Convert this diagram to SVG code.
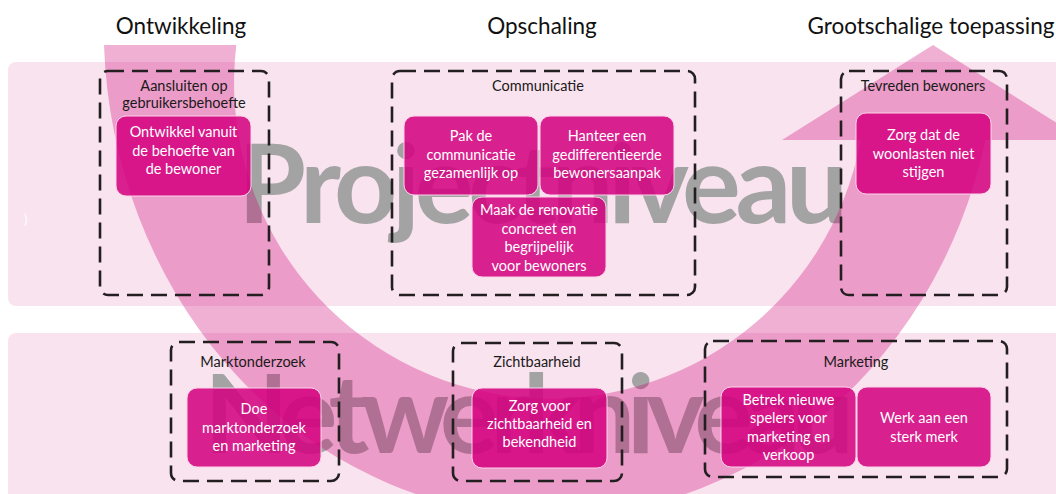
<svg xmlns="http://www.w3.org/2000/svg" width="1056" height="494" viewBox="0 0 1056 494">
<style>
.panel{fill:#f9e3ef}
.big{font-family:Lato,"Open Sans",sans-serif;font-size:110px;font-weight:bold;fill:#a3a3a3}
.head{font-family:Lato,"Open Sans",sans-serif;font-size:22.5px;fill:#111;text-anchor:middle}
.frame{fill:none;stroke:#231f20;stroke-width:2.6;stroke-dasharray:16 8}
.lbl{font-family:Lato,"Open Sans",sans-serif;font-size:14.5px;fill:#1a1a1a;text-anchor:middle}
.box{fill:rgb(212,0,127);fill-opacity:0.86;stroke:#fbd3e8;stroke-width:1}
.bt{font-family:Lato,"Open Sans",sans-serif;font-size:14.5px;fill:#fff;text-anchor:middle}
</style>
<rect width="1056" height="494" fill="#fff"/>
<rect class="panel" x="8" y="62" width="1060" height="244" rx="8"/>
<rect class="panel" x="8" y="333" width="1060" height="170" rx="8"/>
<text x="24" y="224" font-family="Lato,sans-serif" font-size="13" fill="#fff">)</text>
<text class="big" x="238" y="223" textLength="610" lengthAdjust="spacing">Projectniveau</text>
<text class="big" x="204" y="453" textLength="650" lengthAdjust="spacing">Netwerkniveau</text>
<g id="connectors">
<path d="M104,45 A447,490 0 0 0 985.6,140 L1084,140 L933,45 L782,140 L860.8,140 A316,316 0 0 1 236.3,45 Z" fill="rgb(207,0,114)" fill-opacity="0.31"/>
</g>
<text class="head" x="181" y="34">Ontwikkeling</text>
<text class="head" x="542" y="34">Opschaling</text>
<text class="head" x="931" y="34">Grootschalige toepassing</text>
<g id="f1"><rect class="frame" x="100" y="71" width="169" height="224" rx="8"/>
<text class="lbl" x="184" y="91">Aansluiten op</text><text class="lbl" x="184" y="107.5">gebruikersbehoefte</text></g>
<g id="f2"><rect class="frame" x="392" y="71" width="303" height="224" rx="8"/>
<text class="lbl" x="538" y="91">Communicatie</text></g>
<g id="f3"><rect class="frame" x="841" y="71" width="166" height="224" rx="8"/>
<text class="lbl" x="923" y="91">Tevreden bewoners</text></g>
<g id="f4"><rect class="frame" x="171" y="342" width="168" height="139" rx="8"/>
<text class="lbl" x="253" y="367">Marktonderzoek</text></g>
<g id="f5"><rect class="frame" x="453" y="343" width="169" height="138" rx="8"/>
<text class="lbl" x="537" y="367">Zichtbaarheid</text></g>
<g id="f6"><rect class="frame" x="705" y="341" width="302" height="136" rx="8"/>
<text class="lbl" x="856" y="367">Marketing</text></g>
<g id="n1"><rect class="box" x="116" y="116" width="135" height="80" rx="10"/>
<text class="bt" x="183.5" y="137">Ontwikkel vanuit</text><text class="bt" x="183.5" y="155.5">de behoefte van</text><text class="bt" x="183.5" y="174">de bewoner</text></g>
<g id="n2"><rect class="box" x="404" y="116" width="134" height="79" rx="10"/>
<text class="bt" x="471" y="141">Pak de</text><text class="bt" x="471" y="159.5">communicatie</text><text class="bt" x="471" y="178">gezamenlijk op</text></g>
<g id="n3"><rect class="box" x="540" y="116" width="134" height="79" rx="10"/>
<text class="bt" x="607" y="141">Hanteer een</text><text class="bt" x="607" y="159.5">gedifferentieerde</text><text class="bt" x="607" y="178">bewonersaanpak</text></g>
<g id="n4"><rect class="box" x="472" y="197" width="134" height="80" rx="10"/>
<text class="bt" x="539" y="215">Maak de renovatie</text><text class="bt" x="539" y="233.5">concreet en</text><text class="bt" x="539" y="252">begrijpelijk</text><text class="bt" x="539" y="270.5">voor bewoners</text></g>
<g id="n5"><rect class="box" x="856" y="113" width="135" height="81" rx="10"/>
<text class="bt" x="923.5" y="140">Zorg dat de</text><text class="bt" x="923.5" y="158.5">woonlasten niet</text><text class="bt" x="923.5" y="177">stijgen</text></g>
<g id="n6"><rect class="box" x="187" y="388" width="134" height="79" rx="10"/>
<text class="bt" x="254" y="414">Doe</text><text class="bt" x="254" y="432.5">marktonderzoek</text><text class="bt" x="254" y="451">en marketing</text></g>
<g id="n7"><rect class="box" x="472" y="388" width="135" height="80" rx="10"/>
<text class="bt" x="539.5" y="411">Zorg voor</text><text class="bt" x="539.5" y="429">zichtbaarheid en</text><text class="bt" x="539.5" y="447">bekendheid</text></g>
<g id="n8"><rect class="box" x="721" y="387" width="135" height="80" rx="10"/>
<text class="bt" x="788.5" y="405">Betrek nieuwe</text><text class="bt" x="788.5" y="423">spelers voor</text><text class="bt" x="788.5" y="441.5">marketing en</text><text class="bt" x="788.5" y="459.5">verkoop</text></g>
<g id="n9"><rect class="box" x="857" y="387" width="134" height="80" rx="10"/>
<text class="bt" x="924" y="423">Werk aan een</text><text class="bt" x="924" y="441.5">sterk merk</text></g>
</svg>
